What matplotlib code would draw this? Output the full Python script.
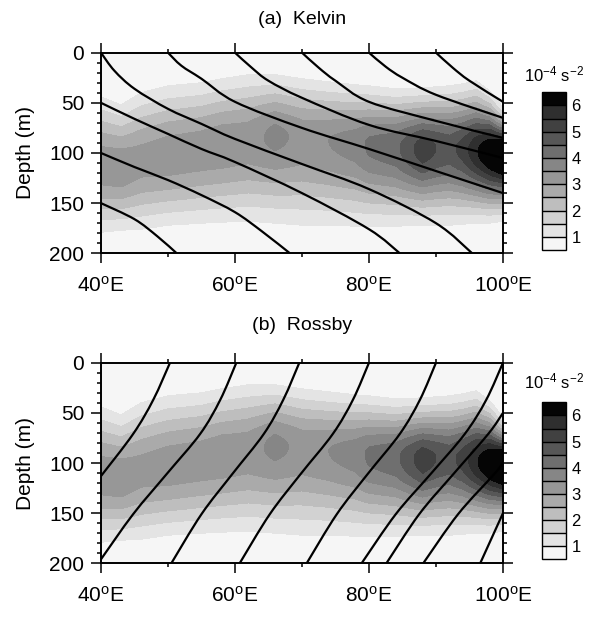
import numpy as np
import matplotlib.pyplot as plt
from matplotlib.path import Path
from matplotlib.patches import PathPatch

plt.rcParams['font.family'] = ['Liberation Sans', 'DejaVu Sans']
plt.rcParams['mathtext.fontset'] = 'custom'
plt.rcParams['mathtext.rm'] = 'Liberation Sans'
plt.rcParams['mathtext.it'] = 'Liberation Sans'

# N^2 thermocline description along the section
lon_nodes   = [40, 43, 46, 50, 55, 58, 62, 66, 70, 74, 78, 80, 84, 88, 90, 92, 94, 96, 98, 100]
peak_n2     = [3.3, 3.35, 3.2, 3.3, 3.3, 3.35, 3.3, 3.65, 3.35, 3.5, 3.75, 4.1, 4.35, 5.3, 5.0, 4.8, 5.2, 5.9, 6.6, 7.2]
core_depth  = [113, 115, 108, 103, 97, 92, 88, 82, 85, 88, 90, 92, 94, 96, 95, 95, 96, 98, 100, 101]
top_edge    = [44, 52, 40, 33, 30, 26, 22, 22, 26, 29, 32, 33, 36, 35, 34, 33, 31, 28, 38, 55]
bottom_edge = [179, 177, 176, 172, 170, 169, 168, 170, 172, 172, 173, 173, 173, 172, 172, 172, 171, 170, 170, 168]

levels = [1, 1.5, 2, 2.5, 3, 3.5, 4, 4.5, 5, 5.5, 6]
grays = ['#f6f6f6', '#e4e4e4', '#d2d2d2', '#bebebe', '#aaaaaa', '#979797',
         '#868686', '#6f6f6f', '#575757', '#414141', '#2f2f2f', '#050505']

# characteristic lines (lon, depth)
kelvin_lon = [
    [40, 45, 48.4, 51.3],
    [40, 45, 50, 55, 60, 64, 68.2],
    [40, 45, 50, 55, 60, 70, 80, 84.6],
    [40, 42, 45, 50, 55, 60, 70, 80, 90, 95.4],
    [50, 52, 55, 60, 70, 80, 90, 100],
    [60, 62.5, 65, 70, 80, 90, 100],
    [70, 72.5, 75, 80, 90, 100],
    [80, 82.5, 85, 90, 100],
    [90, 92.5, 95, 100],
]
kelvin_dep = [
    [150, 166, 183, 200],
    [100, 114, 127, 142, 159, 178, 200],
    [50, 66, 81, 96, 109, 140, 176, 200],
    [0, 18, 36, 56, 71, 86, 111, 136, 170, 200],
    [0, 13, 26, 49, 75, 96, 118, 140],
    [0, 15, 28, 45, 72, 88, 105],
    [0, 15, 28, 49, 68, 85],
    [0, 14, 25, 42, 65],
    [0, 15, 28, 49],
]
rossby_lon = [
    [50.3, 47.8, 44.8, 40],
    [60.2, 57.8, 54.8, 49.8, 44.8, 40.0],
    [69.6, 67.2, 64.3, 59.6, 55.0, 50.5],
    [80, 77.6, 74.6, 69.8, 65.2, 60.7],
    [90, 87.6, 84.6, 79.8, 75.2, 70.7],
    [100, 97.5, 94.3, 89.2, 84.0, 78.9],
    [100, 97.8, 92.6, 87.5, 82.6],
    [100, 98.7, 93.3, 88.1],
    [100, 98.3, 96.6],
]
rossby_dep = [
    [0, 37, 71, 113],
    [0, 37, 71, 111, 151, 196],
    [0, 37, 71, 111, 151, 200],
    [0, 37, 71, 111, 151, 200],
    [0, 37, 71, 111, 151, 200],
    [0, 37, 71, 111, 151, 200],
    [50, 71, 111, 151, 200],
    [100, 111, 151, 200],
    [150, 175, 200],
]

# build the shaded field column by column
depth = np.arange(0, 201, 1.0)
n2 = np.zeros((depth.size, len(lon_nodes)))
for j in range(len(lon_nodes)):
    p, zc = peak_n2[j], core_depth[j]
    s = np.sqrt(np.log(p))
    wu = (zc - top_edge[j]) / s
    wl = (bottom_edge[j] - zc) / s
    w = np.where(depth < zc, wu, wl)
    n2[:, j] = p * np.exp(-((depth - zc) / w) ** 2)


def curve(xs, zs):
    # smooth bezier path through the read points
    P = np.column_stack([xs, zs]).astype(float)
    n = len(P)
    verts = [P[0]]
    codes = [Path.MOVETO]
    for i in range(n - 1):
        p0 = P[i - 1] if i > 0 else P[i]
        p3 = P[i + 2] if i + 2 < n else P[i + 1]
        verts += [P[i] + (P[i + 1] - p0) / 6, P[i + 1] - (p3 - P[i]) / 6, P[i + 1]]
        codes += [Path.CURVE4] * 3
    return Path(verts, codes)


fig = plt.figure(figsize=(5.93, 6.19), dpi=100)
ax_a = fig.add_axes([0.1703, 0.5908, 0.6779, 0.3241])
ax_b = fig.add_axes([0.1703, 0.0900, 0.6779, 0.3240])
cax_a = fig.add_axes([0.914, 0.596, 0.040, 0.255])
cax_b = fig.add_axes([0.914, 0.0964, 0.040, 0.2536])


def panel(ax, cax, rays_lon, rays_dep, title, ty, cby):
    cf = ax.contourf(lon_nodes, depth, n2, levels=levels, colors=grays, extend='both')
    for xs, zs in zip(rays_lon, rays_dep):
        ax.add_patch(PathPatch(curve(xs, zs), fill=False, ec='k', lw=1.6))
    ax.set_xlim(40, 100)
    ax.set_ylim(200, 0)
    ax.set_xticks([40, 60, 80, 100])
    ax.set_xticklabels([r'40$^{\rm o}$E', r'60$^{\rm o}$E', r'80$^{\rm o}$E', r'100$^{\rm o}$E'])
    ax.set_xticks([50, 70, 90], minor=True)
    ax.set_yticks([0, 50, 100, 150, 200])
    ax.set_yticks(np.arange(0, 201, 10), minor=True)
    ax.tick_params(which='both', direction='out', top=True, right=True, width=1.1)
    ax.tick_params(which='major', length=7, labelsize=15)
    ax.tick_params(which='minor', length=3)
    ax.tick_params(axis='x', pad=9)
    ax.tick_params(axis='y', pad=5)
    for sp in ax.spines.values():
        sp.set_linewidth(1.4)
    ax.set_ylabel('Depth (m)', fontsize=15, labelpad=10)
    fig.text(0.509, ty, title, ha='center', va='center', fontsize=14)

    cb = fig.colorbar(cf, cax=cax, ticks=[1, 2, 3, 4, 5, 6], drawedges=True,
                      extendrect=True, extendfrac='auto')
    cb.outline.set_linewidth(1.0)
    cb.dividers.set_linewidth(1.0)
    cb.ax.tick_params(length=0, labelsize=12, pad=4)
    fig.text(0.934, cby, r'10$^{-4}$ s$^{-2}$', ha='center', va='center', fontsize=12)


panel(ax_a, cax_a, kelvin_lon, kelvin_dep, '(a)  Kelvin', 0.968, 0.879)
panel(ax_b, cax_b, rossby_lon, rossby_dep, '(b)  Rossby', 0.474, 0.383)

fig.savefig('out.png', dpi=100)
